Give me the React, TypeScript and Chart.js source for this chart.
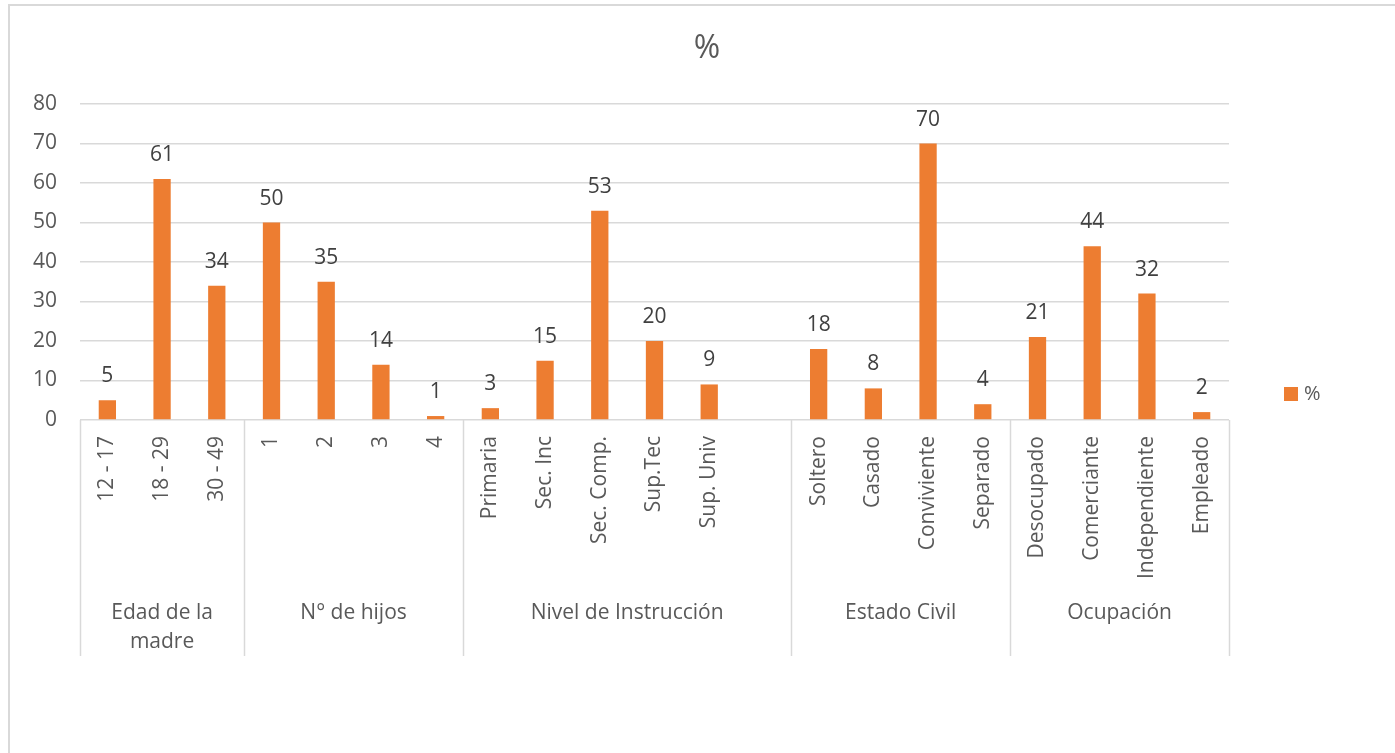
import React, { useEffect, useRef } from "react";
import { Chart, registerables } from "chart.js";

Chart.register(...registerables);

// ---- data ----
const categories = [
  "12 - 17", "18 - 29", "30 - 49",
  "1", "2", "3", "4",
  "Primaria", "Sec. Inc", "Sec. Comp.", "Sup.Tec", "Sup. Univ", "",
  "Soltero", "Casado", "Conviviente", "Separado",
  "Desocupado", "Comerciante", "Independiente", "Empleado",
];
const values: (number | null)[] = [
  5, 61, 34,
  50, 35, 14, 1,
  3, 15, 53, 20, 9, null,
  18, 8, 70, 4,
  21, 44, 32, 2,
];
const groupLabels = [["Edad de la", "madre"], ["N° de hijos"], ["Nivel de Instrucción"], ["Estado Civil"], ["Ocupación"]];
const groupSizes = [3, 4, 6, 4, 4];
const seriesName = "%";
const chartTitle = "%";
const yMin = 0;
const yMax = 80;
const yStep = 10;

const FONT = '"Open Sans", "DejaVu Sans", sans-serif';
const BAR = "#ED7D31";
const GRID = "#d9d9d9";
const TEXT = "#595959";
const LABEL = "#404040";

const overlay = {
  id: "overlay",
  afterDraw(chart: any) {
    const { ctx, chartArea } = chart;
    ctx.save();
    // outer frame (top + left visible)
    ctx.strokeStyle = GRID;
    ctx.lineWidth = 2;
    ctx.beginPath();
    ctx.moveTo(9, 760);
    ctx.lineTo(9, 5);
    ctx.lineTo(1400, 5);
    ctx.stroke();

    // title
    ctx.fillStyle = TEXT;
    ctx.font = `32px ${FONT}`;
    ctx.textAlign = "center";
    ctx.textBaseline = "middle";
    ctx.fillText(chartTitle, 707, 49);

    // group separators
    const step = (chartArea.right - chartArea.left) / categories.length;
    const bounds = [0];
    let acc = 0;
    groupSizes.forEach((s) => {
      acc += s;
      bounds.push(acc);
    });
    ctx.strokeStyle = GRID;
    ctx.lineWidth = 1.5;
    bounds.forEach((b) => {
      const px = Math.round(chartArea.left + b * step) + 0.5;
      ctx.beginPath();
      ctx.moveTo(px, chartArea.bottom);
      ctx.lineTo(px, chartArea.bottom + 236);
      ctx.stroke();
    });

    // group labels
    ctx.fillStyle = TEXT;
    ctx.font = `21px ${FONT}`;
    ctx.textAlign = "center";
    ctx.textBaseline = "middle";
    groupLabels.forEach((lines, g) => {
      const cx = chartArea.left + ((bounds[g] + bounds[g + 1]) / 2) * step;
      lines.forEach((ln, i) => {
        ctx.fillText(ln, cx, chartArea.bottom + 193 + i * 29);
      });
    });

    // data labels
    const meta = chart.getDatasetMeta(0);
    ctx.fillStyle = LABEL;
    ctx.textBaseline = "alphabetic";
    meta.data.forEach((bar: any, i: number) => {
      const v = values[i];
      if (v == null) return;
      ctx.fillText(String(v), bar.x, bar.y - 18);
    });

    // legend
    ctx.fillStyle = BAR;
    ctx.fillRect(1284, 387, 14, 14);
    ctx.fillStyle = TEXT;
    ctx.font = `20px ${FONT}`;
    ctx.textAlign = "left";
    ctx.textBaseline = "middle";
    ctx.fillText(seriesName, 1304, 394);
    ctx.restore();
  },
};

export default function App() {
  const ref = useRef<HTMLCanvasElement | null>(null);
  useEffect(() => {
    if (!ref.current) return;
    const chart = new Chart(ref.current, {
      type: "bar",
      data: {
        labels: categories,
        datasets: [
          {
            label: seriesName,
            data: values,
            backgroundColor: BAR,
            categoryPercentage: 1,
            barPercentage: 0.316,
          },
        ],
      },
      options: {
        responsive: false,
        animation: false,
        devicePixelRatio: 1,
        layout: { padding: { top: 104, left: 0, right: 166, bottom: 0 } },
        plugins: {
          legend: { display: false },
          title: { display: false },
          tooltip: { enabled: false },
        },
        scales: {
          x: {
            grid: { display: false, drawTicks: false },
            border: { display: false },
            ticks: {
              autoSkip: false,
              minRotation: 90,
              maxRotation: 90,
              padding: 16,
              color: TEXT,
              font: { family: FONT, size: 21 },
            },
            afterFit: (s: any) => {
              s.height = 333;
            },
          },
          y: {
            min: yMin,
            max: yMax,
            grid: { color: GRID, lineWidth: 1.5, drawTicks: false },
            border: { display: false },
            ticks: {
              stepSize: yStep,
              padding: 23,
              color: TEXT,
              font: { family: FONT, size: 21 },
            },
            afterFit: (s: any) => {
              s.width = 80;
            },
          },
        },
      },
      plugins: [overlay],
    });
    return () => chart.destroy();
  }, []);
  return (
    <div style={{ position: "fixed", left: 0, top: 0, width: 1395, height: 753, background: "#fff" }}>
      <canvas ref={ref} width={1395} height={753} style={{ width: 1395, height: 753, display: "block" }} />
    </div>
  );
}
